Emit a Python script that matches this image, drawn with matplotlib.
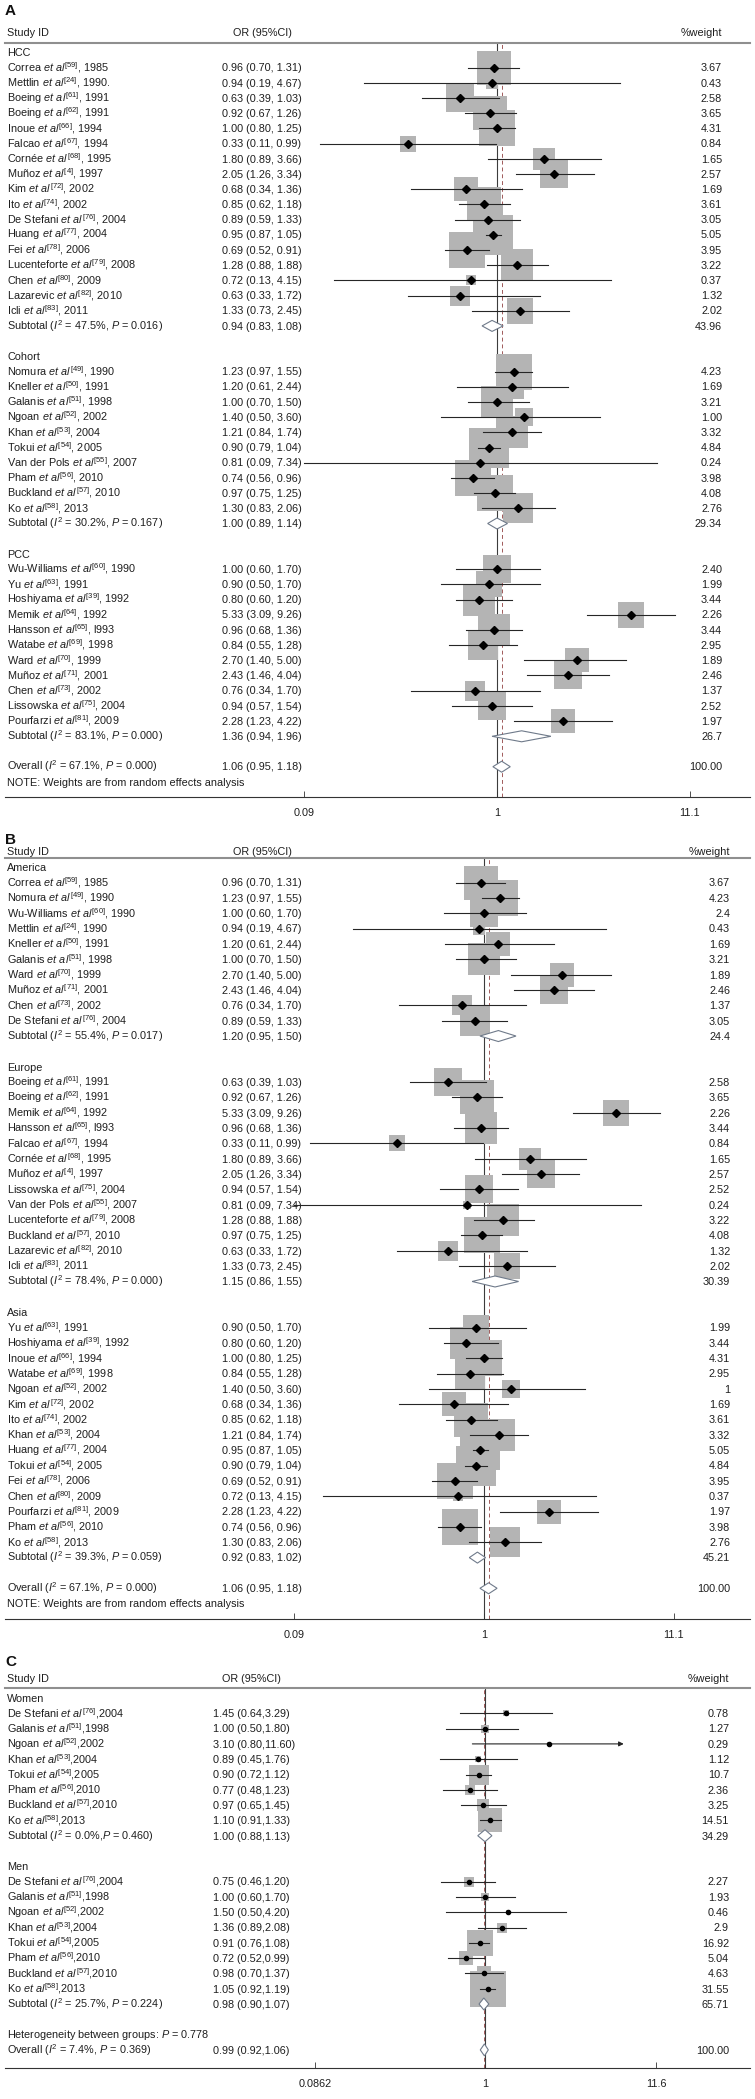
import numpy as np
import matplotlib
matplotlib.use("Agg")
import matplotlib.pyplot as plt
from matplotlib.patches import Polygon
from matplotlib.transforms import blended_transform_factory

plt.rcParams['font.family'] = ['Liberation Sans', 'DejaVu Sans']
plt.rcParams['mathtext.fontset'] = 'custom'
plt.rcParams['mathtext.rm'] = 'Liberation Sans'
plt.rcParams['mathtext.it'] = 'Liberation Sans:italic'
plt.rcParams['mathtext.bf'] = 'Liberation Sans:bold'

# study rows: (name, ref, year, OR, lower, upper, %weight)
hcc_studies = [
    ("Correa", 59, "1985", 0.96, 0.70, 1.31, "3.67"),
    ("Mettlin", 24, "1990.", 0.94, 0.19, 4.67, "0.43"),
    ("Boeing", 61, "1991", 0.63, 0.39, 1.03, "2.58"),
    ("Boeing", 62, "1991", 0.92, 0.67, 1.26, "3.65"),
    ("Inoue", 66, "1994", 1.00, 0.80, 1.25, "4.31"),
    ("Falcao", 67, "1994", 0.33, 0.11, 0.99, "0.84"),
    ("Cornée", 68, "1995", 1.80, 0.89, 3.66, "1.65"),
    ("Muñoz", 4, "1997", 2.05, 1.26, 3.34, "2.57"),
    ("Kim", 72, "2002", 0.68, 0.34, 1.36, "1.69"),
    ("Ito", 74, "2002", 0.85, 0.62, 1.18, "3.61"),
    ("De Stefani", 76, "2004", 0.89, 0.59, 1.33, "3.05"),
    ("Huang", 77, "2004", 0.95, 0.87, 1.05, "5.05"),
    ("Fei", 78, "2006", 0.69, 0.52, 0.91, "3.95"),
    ("Lucenteforte", 79, "2008", 1.28, 0.88, 1.88, "3.22"),
    ("Chen", 80, "2009", 0.72, 0.13, 4.15, "0.37"),
    ("Lazarevic", 82, "2010", 0.63, 0.33, 1.72, "1.32"),
    ("Icli", 83, "2011", 1.33, 0.73, 2.45, "2.02"),
]
hcc_subtotal = ("Subtotal ($I^2$ = 47.5%, $P$ = 0.016)", 0.94, 0.83, 1.08, "43.96")

cohort_studies = [
    ("Nomura", 49, "1990", 1.23, 0.97, 1.55, "4.23"),
    ("Kneller", 50, "1991", 1.20, 0.61, 2.44, "1.69"),
    ("Galanis", 51, "1998", 1.00, 0.70, 1.50, "3.21"),
    ("Ngoan", 52, "2002", 1.40, 0.50, 3.60, "1.00"),
    ("Khan", 53, "2004", 1.21, 0.84, 1.74, "3.32"),
    ("Tokui", 54, "2005", 0.90, 0.79, 1.04, "4.84"),
    ("Van der Pols", 55, "2007", 0.81, 0.09, 7.34, "0.24"),
    ("Pham", 56, "2010", 0.74, 0.56, 0.96, "3.98"),
    ("Buckland", 57, "2010", 0.97, 0.75, 1.25, "4.08"),
    ("Ko", 58, "2013", 1.30, 0.83, 2.06, "2.76"),
]
cohort_subtotal = ("Subtotal ($I^2$ = 30.2%, $P$ = 0.167)", 1.00, 0.89, 1.14, "29.34")

pcc_studies = [
    ("Wu-Williams", 60, "1990", 1.00, 0.60, 1.70, "2.40"),
    ("Yu", 63, "1991", 0.90, 0.50, 1.70, "1.99"),
    ("Hoshiyama", 39, "1992", 0.80, 0.60, 1.20, "3.44"),
    ("Memik", 64, "1992", 5.33, 3.09, 9.26, "2.26"),
    ("Hansson", 65, "l993", 0.96, 0.68, 1.36, "3.44"),
    ("Watabe", 69, "1998", 0.84, 0.55, 1.28, "2.95"),
    ("Ward", 70, "1999", 2.70, 1.40, 5.00, "1.89"),
    ("Muñoz", 71, "2001", 2.43, 1.46, 4.04, "2.46"),
    ("Chen", 73, "2002", 0.76, 0.34, 1.70, "1.37"),
    ("Lissowska", 75, "2004", 0.94, 0.57, 1.54, "2.52"),
    ("Pourfarzi", 81, "2009", 2.28, 1.23, 4.22, "1.97"),
]
pcc_subtotal = ("Subtotal ($I^2$ = 83.1%, $P$ = 0.000)", 1.36, 0.94, 1.96, "26.7")

america_studies = [
    ("Correa", 59, "1985", 0.96, 0.70, 1.31, "3.67"),
    ("Nomura", 49, "1990", 1.23, 0.97, 1.55, "4.23"),
    ("Wu-Williams", 60, "1990", 1.00, 0.60, 1.70, "2.4"),
    ("Mettlin", 24, "1990", 0.94, 0.19, 4.67, "0.43"),
    ("Kneller", 50, "1991", 1.20, 0.61, 2.44, "1.69"),
    ("Galanis", 51, "1998", 1.00, 0.70, 1.50, "3.21"),
    ("Ward", 70, "1999", 2.70, 1.40, 5.00, "1.89"),
    ("Muñoz", 71, "2001", 2.43, 1.46, 4.04, "2.46"),
    ("Chen", 73, "2002", 0.76, 0.34, 1.70, "1.37"),
    ("De Stefani", 76, "2004", 0.89, 0.59, 1.33, "3.05"),
]
america_subtotal = ("Subtotal ($I^2$ = 55.4%, $P$ = 0.017)", 1.20, 0.95, 1.50, "24.4")

europe_studies = [
    ("Boeing", 61, "1991", 0.63, 0.39, 1.03, "2.58"),
    ("Boeing", 62, "1991", 0.92, 0.67, 1.26, "3.65"),
    ("Memik", 64, "1992", 5.33, 3.09, 9.26, "2.26"),
    ("Hansson", 65, "l993", 0.96, 0.68, 1.36, "3.44"),
    ("Falcao", 67, "1994", 0.33, 0.11, 0.99, "0.84"),
    ("Cornée", 68, "1995", 1.80, 0.89, 3.66, "1.65"),
    ("Muñoz", 4, "1997", 2.05, 1.26, 3.34, "2.57"),
    ("Lissowska", 75, "2004", 0.94, 0.57, 1.54, "2.52"),
    ("Van der Pols", 55, "2007", 0.81, 0.09, 7.34, "0.24"),
    ("Lucenteforte", 79, "2008", 1.28, 0.88, 1.88, "3.22"),
    ("Buckland", 57, "2010", 0.97, 0.75, 1.25, "4.08"),
    ("Lazarevic", 82, "2010", 0.63, 0.33, 1.72, "1.32"),
    ("Icli", 83, "2011", 1.33, 0.73, 2.45, "2.02"),
]
europe_subtotal = ("Subtotal ($I^2$ = 78.4%, $P$ = 0.000)", 1.15, 0.86, 1.55, "30.39")

asia_studies = [
    ("Yu", 63, "1991", 0.90, 0.50, 1.70, "1.99"),
    ("Hoshiyama", 39, "1992", 0.80, 0.60, 1.20, "3.44"),
    ("Inoue", 66, "1994", 1.00, 0.80, 1.25, "4.31"),
    ("Watabe", 69, "1998", 0.84, 0.55, 1.28, "2.95"),
    ("Ngoan", 52, "2002", 1.40, 0.50, 3.60, "1"),
    ("Kim", 72, "2002", 0.68, 0.34, 1.36, "1.69"),
    ("Ito", 74, "2002", 0.85, 0.62, 1.18, "3.61"),
    ("Khan", 53, "2004", 1.21, 0.84, 1.74, "3.32"),
    ("Huang", 77, "2004", 0.95, 0.87, 1.05, "5.05"),
    ("Tokui", 54, "2005", 0.90, 0.79, 1.04, "4.84"),
    ("Fei", 78, "2006", 0.69, 0.52, 0.91, "3.95"),
    ("Chen", 80, "2009", 0.72, 0.13, 4.15, "0.37"),
    ("Pourfarzi", 81, "2009", 2.28, 1.23, 4.22, "1.97"),
    ("Pham", 56, "2010", 0.74, 0.56, 0.96, "3.98"),
    ("Ko", 58, "2013", 1.30, 0.83, 2.06, "2.76"),
]
asia_subtotal = ("Subtotal ($I^2$ = 39.3%, $P$ = 0.059)", 0.92, 0.83, 1.02, "45.21")

overall_ab = ("Overall ($I^2$ = 67.1%, $P$ = 0.000)", 1.06, 0.95, 1.18, "100.00")
note_text = "NOTE: Weights are from random effects analysis"

women_studies = [
    ("De Stefani", 76, "2004", 1.45, 0.64, 3.29, "0.78"),
    ("Galanis", 51, "1998", 1.00, 0.50, 1.80, "1.27"),
    ("Ngoan", 52, "2002", 3.10, 0.80, 11.60, "0.29"),
    ("Khan", 53, "2004", 0.89, 0.45, 1.76, "1.12"),
    ("Tokui", 54, "2005", 0.90, 0.72, 1.12, "10.7"),
    ("Pham", 56, "2010", 0.77, 0.48, 1.23, "2.36"),
    ("Buckland", 57, "2010", 0.97, 0.65, 1.45, "3.25"),
    ("Ko", 58, "2013", 1.10, 0.91, 1.33, "14.51"),
]
women_subtotal = ("Subtotal ($I^2$ = 0.0%,$P$ = 0.460)", 1.00, 0.88, 1.13, "34.29")

men_studies = [
    ("De Stefani", 76, "2004", 0.75, 0.46, 1.20, "2.27"),
    ("Galanis", 51, "1998", 1.00, 0.60, 1.70, "1.93"),
    ("Ngoan", 52, "2002", 1.50, 0.50, 4.20, "0.46"),
    ("Khan", 53, "2004", 1.36, 0.89, 2.08, "2.9"),
    ("Tokui", 54, "2005", 0.91, 0.76, 1.08, "16.92"),
    ("Pham", 56, "2010", 0.72, 0.52, 0.99, "5.04"),
    ("Buckland", 57, "2010", 0.98, 0.70, 1.37, "4.63"),
    ("Ko", 58, "2013", 1.05, 0.92, 1.19, "31.55"),
]
men_subtotal = ("Subtotal ($I^2$ = 25.7%, $P$ = 0.224)", 0.98, 0.90, 1.07, "65.71")

overall_c = ("Overall ($I^2$ = 7.4%, $P$ = 0.369)", 0.99, 0.92, 1.06, "100.00")
hetero_c = "Heterogeneity between groups: $P$ = 0.778"
c_range_max = 11.6   # CIs reaching this get an arrow

ticks_ab = ["0.09", "1", "11.1"]
ticks_c = ["0.0862", "1", "11.6"]

W, H = 755, 2099
FS = 7.8
TXT = '#1e1e1e'
fig = plt.figure(figsize=(W / 100, H / 100), dpi=100)


def draw_panel(letter, groups, overall, lay, note=None, hetero=None):
    x0, x1 = 5, 750
    dy = lay['dy']
    ax = fig.add_axes([x0 / W, 1 - lay['axis_y'] / H, (x1 - x0) / W,
                       (lay['axis_y'] - lay['line_y']) / H])
    ax.set_xscale('log')
    ax.set_xlim(np.exp((x0 - lay['one_px']) / lay['px_ln']),
                np.exp((x1 - lay['one_px']) / lay['px_ln']))
    ax.set_ylim((lay['axis_y'] - lay['row0']) / dy, -(lay['row0'] - lay['line_y']) / dy)
    ax.patch.set_visible(False)
    for s in ['left', 'right']:
        ax.spines[s].set_visible(False)
    ax.spines['top'].set_color('#8f8f8f')
    ax.spines['top'].set_linewidth(1.5)
    ax.spines['bottom'].set_color('#333333')
    ax.spines['bottom'].set_linewidth(0.8)
    ax.set_yticks([])
    ax.xaxis.set_minor_locator(plt.NullLocator())
    ax.set_xticks(lay['tick_vals'])
    ax.set_xticklabels(lay['tick_labels'], fontsize=FS, color=TXT)
    ax.tick_params(axis='x', direction='in', length=4, width=0.6, pad=8, colors='#333333')
    for t in ax.get_xticklabels():
        t.set_color(TXT)

    tr = blended_transform_factory(fig.transFigure, ax.transData)

    def put(px, row, s, ha='left'):
        ax.text(px / W, row + 0.25, s, transform=tr, ha=ha, va='baseline',
                fontsize=FS, color=TXT, clip_on=False)

    fig.text(5 / W, 1 - lay['letter_y'] / H, letter, fontsize=11, fontweight='bold',
             va='center', ha='left', color='#111111')
    head = -(lay['row0'] - lay['head_y']) / dy
    put(lay['label_x'], head, "Study ID")
    put(lay['or_head_x'], head, "OR (95%CI)", ha='center')
    put(lay['w_x'], head, "%weight", ha='right')

    ax.axvline(1, color='#3c3c3c', lw=0.8, zorder=1)
    ax.axvline(overall[1], color='#a05a5a', lw=0.7, ls=(0, (4, 3)), zorder=1)

    def ci_text(est, lo, hi):
        return f"{est:.2f} ({lo:.2f},{lay['ci_sep']}{hi:.2f})"

    def diamond(row, est, lo, hi):
        h = lay['dh'] / dy
        poly = Polygon([(lo, row), (est, row - h), (hi, row), (est, row + h)], closed=True,
                       facecolor='white', edgecolor='#6f7a8a', lw=0.8, zorder=3)
        ax.add_patch(poly)

    arrow_at = lay.get('arrow_at')
    row = 0
    for gname, studies, sub in groups:
        put(lay['label_x'], row, gname)
        row += 1
        for name, ref, year, est, lo, hi, w in studies:
            put(lay['label_x'], row,
                f"{name} $\\mathit{{et\\ al}}^{{[{ref}]}}${lay['yr_sep']}{year}")
            put(lay['or_x'], row, ci_text(est, lo, hi))
            put(lay['w_x'], row, w, ha='right')
            side_pt = lay['box_k'] * 0.72 * np.sqrt(float(w))
            ax.scatter([est], [row], s=side_pt ** 2, marker='s', c='#b4b4b4',
                       linewidths=0, zorder=2)
            if arrow_at is not None and hi >= arrow_at:
                ax.annotate("", xy=(arrow_at, row), xytext=(lo, row),
                            arrowprops=dict(arrowstyle='-|>', lw=0.8, color='#262626',
                                            mutation_scale=7, shrinkA=0, shrinkB=0),
                            zorder=3)
            else:
                ax.plot([lo, hi], [row, row], color='#262626', lw=0.8, zorder=3)
            ax.plot([est], [row], marker=lay['pt_marker'], ms=lay['pt_size'],
                    color='black', lw=0, zorder=4)
            row += 1
        slabel, est, lo, hi, w = sub
        put(lay['label_x'], row, slabel)
        put(lay['or_x'], row, ci_text(est, lo, hi))
        put(lay['w_x'], row, w, ha='right')
        diamond(row, est, lo, hi)
        row += 2
    if hetero:
        put(lay['label_x'], row, hetero)
        row += 1
    olabel, est, lo, hi, w = overall
    put(lay['label_x'], row, olabel)
    put(lay['or_x'], row, ci_text(est, lo, hi))
    put(lay['w_x'], row, w, ha='right')
    diamond(row, est, lo, hi)
    row += 1
    if note:
        put(lay['label_x'], row, note)
    return ax


lay_a = dict(letter_y=11, head_y=31.7, line_y=42.7, row0=52.3, dy=15.2, axis_y=796.7,
             one_px=497, px_ln=80.1, label_x=7, or_x=222, or_head_x=262, w_x=722,
             ci_sep=' ', yr_sep=', ', box_k=17.75, pt_marker='D', pt_size=4.1, dh=5.5,
             tick_vals=[0.09, 1, 11.1], tick_labels=ticks_ab)
lay_b = dict(lay_a, letter_y=840, head_y=851.5, line_y=858.3, row0=867.3, dy=15.34,
             axis_y=1619, one_px=484, px_ln=78.9, w_x=730)
c_px_ln = 56.6
lay_c = dict(letter_y=1662, head_y=1678, line_y=1688, row0=1698, dy=15.3, axis_y=2068,
             one_px=485, px_ln=c_px_ln, label_x=7, or_x=213, or_head_x=251, w_x=729,
             ci_sep='', yr_sep=',', box_k=6.3, pt_marker='o', pt_size=3.0, dh=6,
             tick_vals=[np.exp((315 - 485) / c_px_ln), 1, np.exp((656 - 485) / c_px_ln)],
             tick_labels=ticks_c, arrow_at=c_range_max)

draw_panel("A", [("HCC", hcc_studies, hcc_subtotal),
                 ("Cohort", cohort_studies, cohort_subtotal),
                 ("PCC", pcc_studies, pcc_subtotal)], overall_ab, lay_a, note=note_text)
draw_panel("B", [("America", america_studies, america_subtotal),
                 ("Europe", europe_studies, europe_subtotal),
                 ("Asia", asia_studies, asia_subtotal)], overall_ab, lay_b, note=note_text)
draw_panel("C", [("Women", women_studies, women_subtotal),
                 ("Men", men_studies, men_subtotal)], overall_c, lay_c, hetero=hetero_c)

fig.savefig("out.png", dpi=100, facecolor='white')
